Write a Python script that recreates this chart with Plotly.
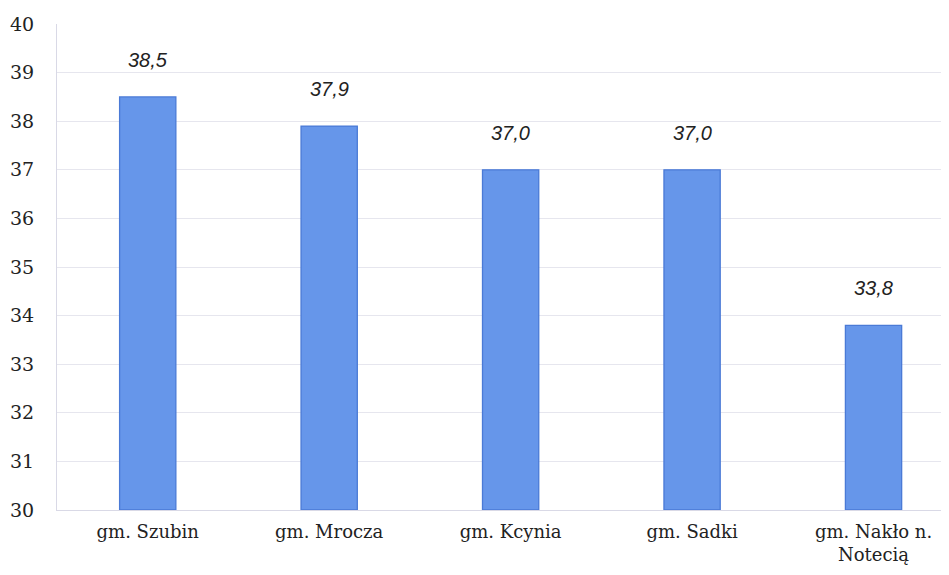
import plotly.graph_objects as go

gminy = ["gm. Szubin", "gm. Mrocza", "gm. Kcynia", "gm. Sadki", "gm. Nakło n.<br>Notecią"]
wartosci = [38.5, 37.9, 37.0, 37.0, 33.8]
etykiety = ["38,5", "37,9", "37,0", "37,0", "33,8"]
y_ticki = [30, 31, 32, 33, 34, 35, 36, 37, 38, 39, 40]

fig = go.Figure()
fig.add_trace(go.Bar(
    x=list(range(len(gminy))), y=[w - 30 for w in wartosci], base=30,
    width=0.31,
    marker=dict(color="#6696ea", line=dict(color="#4a7ad6", width=1.3)),
))

for i, (w, t) in enumerate(zip(wartosci, etykiety)):
    fig.add_annotation(x=i, y=w, text=t, showarrow=False, yanchor="bottom", yshift=24,
                       font=dict(family="Liberation Sans", size=20, color="#222", style="italic"))

# strona ma 8px marginesu body, stąd mniejsze marginesy
fig.update_layout(
    width=949, height=575,
    margin=dict(l=49, r=0, t=16, b=73),
    paper_bgcolor="white", plot_bgcolor="white",
    showlegend=False,
    xaxis=dict(
        range=[-0.5, 4.46], automargin=False,
        tickvals=list(range(len(gminy))), ticktext=gminy,
        tickfont=dict(family="DejaVu Serif", size=18, color="#222"),
        showgrid=False, zeroline=False,
        showline=True, linecolor="#d9d9e6", linewidth=1,
        ticks="outside", ticklen=5, tickcolor="white",
    ),
    yaxis=dict(
        range=[30, 40], tickvals=y_ticki, automargin=False,
        tickfont=dict(family="DejaVu Serif", size=19, color="#222"),
        showgrid=True, gridcolor="#e6e6ee", gridwidth=1,
        zeroline=False, showline=True, linecolor="#d9d9e6", linewidth=1,
        ticks="outside", ticklen=18, tickcolor="white",
    ),
)

fig.write_html("out.html")
